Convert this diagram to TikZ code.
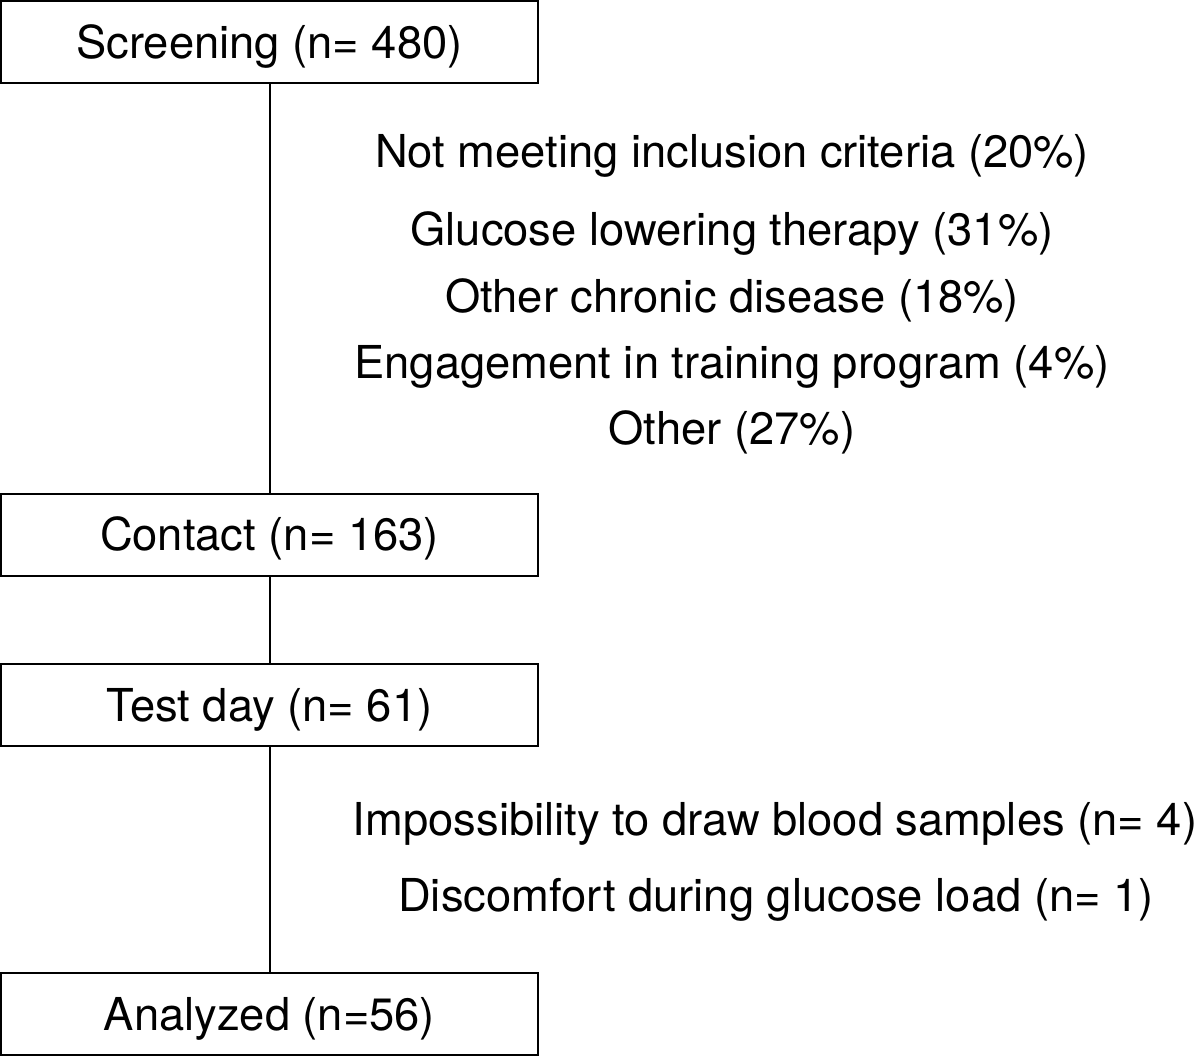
\documentclass[tikz,border=0pt]{standalone}
\usepackage{fontspec}
\setmainfont{TeX Gyre Heros}
\begin{document}
\begin{tikzpicture}[x=0.75pt,y=-0.75pt,
  every node/.style={font=\fontsize{34pt}{40pt}\selectfont, text=black},
  stagebox/.style={draw=black, line width=1.5pt, rectangle, inner sep=0pt,
    minimum width=403pt, minimum height=61.5pt, text height=24.4pt, text depth=0pt},
  reason/.style={anchor=base, inner sep=0pt},
  link/.style={draw=black, line width=1.5pt}]
\useasboundingbox (0,0) rectangle (1200,1057);
\node[stagebox] (screen) at (269.5,42) {Screening (n= 480)};
\node[stagebox] (contact) at (269.5,534.5) {Contact (n= 163)};
\node[stagebox] (test) at (269.5,705) {Test day (n= 61)};
\node[stagebox] (anal) at (269.5,1014) {Analyzed (n=56)};
\draw[link] (screen) -- (contact);
\draw[link] (contact) -- (test);
\draw[link] (test) -- (anal);
\node[reason] (r1) at (732,167) {Not meeting inclusion criteria (20\%)};
\node[reason] (r2) at (732,245) {Glucose lowering therapy (31\%)};
\node[reason] (r3) at (732,312) {Other chronic disease (18\%)};
\node[reason] (r4) at (732,378) {Engagement in training program (4\%)};
\node[reason] (r5) at (732,444) {Other (27\%)};
\node[reason] (r6) at (775,835) {Impossibility to draw blood samples (n= 4)};
\node[reason] (r7) at (776,911) {Discomfort during glucose load (n= 1)};
\end{tikzpicture}
\end{document}
